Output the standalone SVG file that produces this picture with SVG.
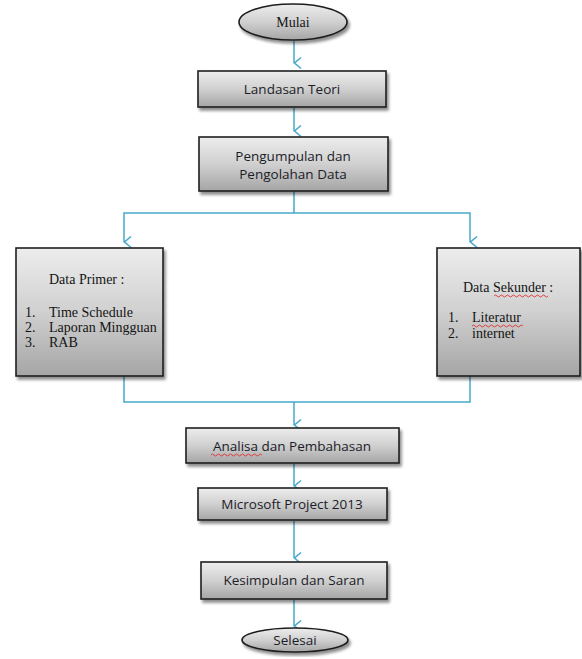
<svg xmlns="http://www.w3.org/2000/svg" width="582" height="659" viewBox="0 0 582 659">
<defs>
<linearGradient id="g" x1="0" y1="0" x2="0" y2="1">
<stop offset="0" stop-color="#ededed"/>
<stop offset="0.5" stop-color="#d0d0d0"/>
<stop offset="1" stop-color="#a5a5a5"/>
</linearGradient>
<filter id="sh" x="-10%" y="-10%" width="125%" height="130%">
<feGaussianBlur in="SourceAlpha" stdDeviation="1.5"/>
<feOffset dx="1.5" dy="2.5" result="b"/>
<feComponentTransfer><feFuncA type="linear" slope="0.45"/></feComponentTransfer>
<feMerge><feMergeNode/><feMergeNode in="SourceGraphic"/></feMerge>
</filter>
<marker id="ar" viewBox="0 0 14 12" refX="7" refY="11" markerWidth="14" markerHeight="12" markerUnits="userSpaceOnUse" orient="auto-start-reverse">
<path d="M1.5 4 L7 10.5 L12.5 4" fill="none" stroke="#47a9cc" stroke-width="1.6"/>
</marker>
</defs>
<style>
.box{fill:url(#g);stroke:#1e1e1e;stroke-width:1.6;filter:url(#sh)}
.t{font-family:"Open Sans","Liberation Sans",sans-serif;font-size:13.5px;fill:#1c1c28;text-anchor:middle}
.s{font-family:"Liberation Serif",serif;font-size:14px;fill:#141414}
.c{fill:none;stroke:#47a9cc;stroke-width:1.5}
.sq{fill:none;stroke:#e03030;stroke-width:0.9}
</style>
<rect width="582" height="659" fill="#ffffff"/>

<g id="connectors">
<path class="c" d="M294 41 V63" marker-end="url(#ar)"/>
<path class="c" d="M294 108 V131" marker-end="url(#ar)"/>
<path class="c" d="M294 191 V213"/>
<path class="c" d="M124 242 V213 H470 V242" marker-end="url(#ar)" marker-start="url(#ar)"/>
<path class="c" d="M124 376 V402 H470 V376"/>
<path class="c" d="M294 402 V425" marker-end="url(#ar)"/>
<path class="c" d="M294 464 V486" marker-end="url(#ar)"/>
<path class="c" d="M294 521 V558" marker-end="url(#ar)"/>
<path class="c" d="M294 600 V626" marker-end="url(#ar)"/>
</g>

<g id="mulai">
<ellipse class="box" cx="293" cy="22" rx="54" ry="18"/>
<text x="293" y="27" class="s" text-anchor="middle" font-size="13.5">Mulai</text>
</g>

<g id="landasan">
<rect class="box" x="198" y="71" width="188" height="36"/>
<text x="292" y="94" class="t">Landasan Teori</text>
</g>

<g id="pengumpulan">
<rect class="box" x="199" y="137" width="189" height="54"/>
<text x="293" y="161" class="t">Pengumpulan dan</text>
<text x="293" y="179" class="t">Pengolahan Data</text>
</g>

<g id="primer">
<rect class="box" x="16" y="248" width="147" height="128"/>
<text x="49" y="284" class="s">Data Primer :</text>
<text x="25" y="317" class="s">1.</text><text x="49" y="317" class="s">Time Schedule</text>
<text x="25" y="332" class="s">2.</text><text x="49" y="332" class="s">Laporan Mingguan</text>
<text x="25" y="347" class="s">3.</text><text x="49" y="347" class="s">RAB</text>
</g>

<g id="sekunder">
<rect class="box" x="437" y="248" width="143" height="128"/>
<text x="463" y="292" class="s">Data Sekunder :</text>
<path class="sq" d="M494 296 q1.5 -2 3 0 t3 0 t3 0 t3 0 t3 0 t3 0 t3 0 t3 0 t3 0 t3 0 t3 0 t3 0 t3 0 t3 0 t3 0 t3 0 t3 0 t3 0"/>
<text x="448" y="322" class="s">1.</text><text x="472" y="322" class="s">Literatur</text>
<path class="sq" d="M472 326 q1.5 -2 3 0 t3 0 t3 0 t3 0 t3 0 t3 0 t3 0 t3 0 t3 0 t3 0 t3 0 t3 0 t3 0 t3 0 t3 0 t3 0 t3 0"/>
<text x="448" y="338" class="s">2.</text><text x="472" y="338" class="s">internet</text>
</g>

<g id="analisa">
<rect class="box" x="186" y="428" width="213" height="35"/>
<text x="292" y="451" class="t">Analisa dan Pembahasan</text>
<path class="sq" d="M211 455 q1.5 -2 3 0 t3 0 t3 0 t3 0 t3 0 t3 0 t3 0 t3 0 t3 0 t3 0 t3 0 t3 0 t3 0 t3 0 t3 0 t3 0 t3 0"/>
</g>

<g id="msproject">
<rect class="box" x="198" y="488" width="189" height="32"/>
<text x="292" y="509" class="t">Microsoft Project 2013</text>
</g>

<g id="kesimpulan">
<rect class="box" x="201" y="562" width="186" height="37"/>
<text x="294" y="585" class="t">Kesimpulan dan Saran</text>
</g>

<g id="selesai">
<ellipse class="box" cx="295" cy="640" rx="53" ry="12"/>
<text x="295" y="645" class="t" font-size="12.5">Selesai</text>
</g>
</svg>
